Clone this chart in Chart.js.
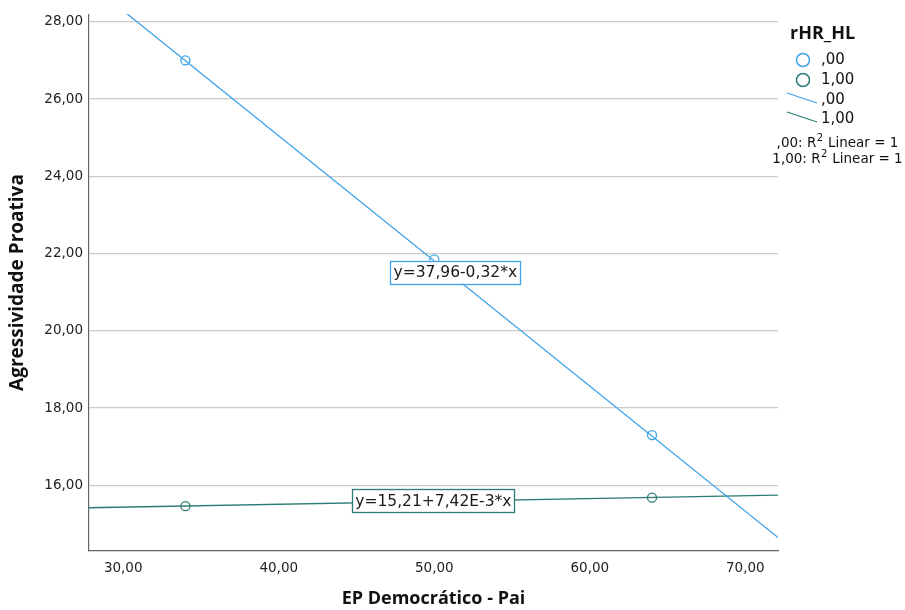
<!DOCTYPE html>
<html><head><meta charset="utf-8">
<script src="https://cdn.jsdelivr.net/npm/chart.js@4/dist/chart.umd.min.js"></script>
<style>html,body{margin:0;padding:0;background:#fff}#wrap{width:905px;height:610px}</style>
</head><body><div id="wrap"><canvas id="c" width="905" height="610"></canvas></div>
<script>
// ---- data ----
const groupLabels = [',00', '1,00'];
const xTicks = [30, 40, 50, 60, 70];
const yTicks = [16, 18, 20, 22, 24, 26, 28];
const pointsX00 = [34, 50, 64];
const pointsY00 = [27.0, 21.85, 17.3];
const pointsX100 = [34, 64];
const pointsY100 = [15.46, 15.68];
const fitX = [27.8, 72.1];
const fitY00 = [29.0, 14.65];
const fitY100 = [15.42, 15.745];
const eqLabels = ['y=37,96-0,32*x', 'y=15,21+7,42E-3*x'];
const eqAnchorX = [51.35, 49.94];
const eqAnchorY = [21.52, 15.6];
const legendTitle = 'rHR_HL';
const rsqLabels = [',00: R', '1,00: R'];

const BLUE = '#3ea2ea', GREEN = '#2c7c76';
const FONT = '"DejaVu Sans", sans-serif';
const TFONT = '"Open Sans", "Noto Sans", sans-serif';
const fmt = v => v.toFixed(2).replace('.', ',');
const pts = (xs, ys) => xs.map((x, i) => ({x, y: ys[i]}));

const overlay = {
  id: 'overlay',
  afterDatasetsDraw(chart) {
    const ctx = chart.ctx, xs = chart.scales.x, ys = chart.scales.y;
    const cols = [BLUE, GREEN];
    ctx.save();
    ctx.font = '15.5px ' + FONT;
    ctx.textBaseline = 'middle';
    eqLabels.forEach((t, i) => {
      const cx = xs.getPixelForValue(eqAnchorX[i]);
      const cy = ys.getPixelForValue(eqAnchorY[i]);
      const w = ctx.measureText(t).width + 6, h = 23;
      ctx.fillStyle = '#fff';
      ctx.fillRect(cx - w/2, cy - h/2, w, h);
      ctx.strokeStyle = cols[i]; ctx.lineWidth = 1.3;
      ctx.strokeRect(Math.round(cx - w/2) + 0.5, Math.round(cy - h/2) + 0.5, Math.round(w), h);
      ctx.fillStyle = '#1a1a1a'; ctx.textAlign = 'center';
      ctx.fillText(t, cx, cy + 1);
    });
    ctx.restore();
  },
  afterDraw(chart) {
    const ctx = chart.ctx;
    const cols = [BLUE, GREEN];
    ctx.save();
    ctx.textBaseline = 'middle';
    ctx.fillStyle = '#111';
    ctx.font = 'bold 18px ' + TFONT;
    ctx.textAlign = 'left';
    ctx.fillText(legendTitle, 790, 34);
    ctx.font = '15px ' + FONT;
    groupLabels.forEach((g, i) => {
      const y = 60 + i * 20;
      ctx.beginPath(); ctx.arc(803, y, 6.5, 0, Math.PI * 2);
      ctx.strokeStyle = cols[i]; ctx.lineWidth = 1.5; ctx.stroke();
      ctx.fillStyle = '#111'; ctx.fillText(g, 821, y);
    });
    groupLabels.forEach((g, i) => {
      const y = 100 + i * 19;
      ctx.beginPath(); ctx.moveTo(787, y - 7); ctx.lineTo(817, y + 3);
      ctx.strokeStyle = cols[i]; ctx.lineWidth = 1.3; ctx.stroke();
      ctx.fillStyle = '#111'; ctx.fillText(g, 821, y);
    });
    const rows = [143, 159];
    rsqLabels.forEach((t, i) => {
      const tail = ' Linear = 1';
      ctx.font = '13.5px ' + FONT;
      const w1 = ctx.measureText(t).width, w3 = ctx.measureText(tail).width;
      ctx.font = '10px ' + FONT;
      const w2 = ctx.measureText('2').width;
      const total = w1 + w2 + w3;
      let x = 837 - total / 2;
      ctx.font = '13.5px ' + FONT; ctx.fillStyle = '#111';
      ctx.fillText(t, x, rows[i]); x += w1;
      ctx.font = '10px ' + FONT; ctx.fillText('2', x + 0.5, rows[i] - 5); x += w2 + 1;
      ctx.font = '13.5px ' + FONT; ctx.fillText(tail, x, rows[i]);
    });
    ctx.restore();
  }
};

new Chart(document.getElementById('c'), {
  type: 'scatter',
  data: {
    datasets: [
      {label: groupLabels[0] + ' fit', type: 'line', data: pts(fitX, fitY00), borderColor: BLUE, borderWidth: 1.3, pointRadius: 0, fill: false, order: 3},
      {label: groupLabels[1] + ' fit', type: 'line', data: pts(fitX, fitY100), borderColor: GREEN, borderWidth: 1.3, pointRadius: 0, fill: false, order: 4},
      {label: groupLabels[0], data: pts(pointsX00, pointsY00), pointRadius: 4.5, pointBorderWidth: 1.3, borderColor: BLUE, backgroundColor: 'rgba(255,255,255,0)', order: 1},
      {label: groupLabels[1], data: pts(pointsX100, pointsY100), pointRadius: 4.5, pointBorderWidth: 1.3, borderColor: GREEN, backgroundColor: 'rgba(255,255,255,0)', order: 2}
    ]
  },
  options: {
    responsive: false, animation: false,
    layout: {padding: {left: 0, right: 127, top: 13, bottom: 0}},
    plugins: {legend: {display: false}, tooltip: {enabled: false}},
    scales: {
      x: {
        type: 'linear', min: 27.8, max: 72.1,
        afterBuildTicks: s => { s.ticks = xTicks.map(v => ({value: v})); },
        afterFit: s => { s.height = 59; },
        grid: {display: false, drawTicks: false},
        border: {display: true, color: '#666', width: 1.2},
        ticks: {callback: v => fmt(v), color: '#222', font: {family: FONT, size: 13.5}, padding: 9, maxRotation: 0},
        title: {display: true, text: 'EP Democrático - Pai', color: '#111', font: {family: TFONT, size: 18, weight: 'bold'}, padding: {top: 4, bottom: 0}}
      },
      y: {
        type: 'linear', min: 14.3, max: 28.2,
        afterBuildTicks: s => { s.ticks = yTicks.map(v => ({value: v})); },
        afterFit: s => { s.width = 89; },
        grid: {color: '#cccccc', lineWidth: 1.2, drawTicks: false},
        border: {display: true, color: '#666', width: 1.2},
        ticks: {callback: v => fmt(v), color: '#222', font: {family: FONT, size: 13.5}, padding: 6},
        title: {display: true, text: 'Agressividade Proativa', color: '#111', font: {family: TFONT, size: 19, weight: 'bold'}, padding: {top: 6, bottom: 0}}
      }
    }
  },
  plugins: [overlay]
});
</script></body></html>
